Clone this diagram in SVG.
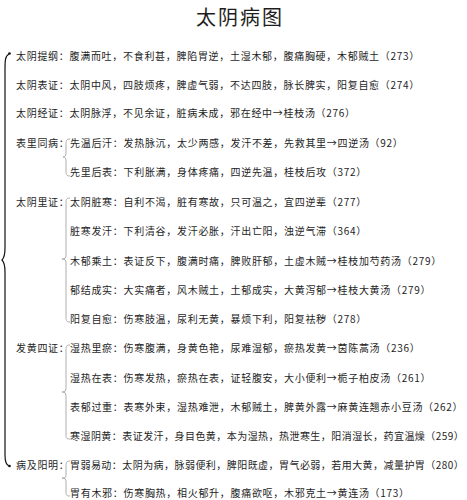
<svg xmlns="http://www.w3.org/2000/svg" width="467" height="500" viewBox="0 0 467 500">
<style>
text{font-family:"Noto Sans CJK SC","Noto Sans",sans-serif;fill:#1e1e1e}
.t{font-size:10px;letter-spacing:0.7px}
.n{letter-spacing:0.45px}
.title{font-size:20px;letter-spacing:2px}
.main{fill:none;stroke:#111;stroke-width:1.2}
.sub{fill:none;stroke:#9a9a9a;stroke-width:0.8}
</style>
<rect width="467" height="500" fill="#fff"/>
<text class="title" x="240" y="25" text-anchor="middle">太阴病图</text>
<g id="connectors">
<path class="main" d="M9,54 C5,56 5,61 5,70 L5,248 C5,255 4,258 2,260 C4,262 5,265 5,272 L5,455 C5,462 6,465 9,466"/>
<circle cx="9.5" cy="53.5" r="1.3" fill="#111"/>
<circle cx="9.5" cy="466" r="1.3" fill="#111"/>
<path class="sub" d="M70,139 C66,139 66,141 66,145 L66,153 C66,156 65,157 63,157 C65,157 66,158 66,161 L66,170 C66,174 66,176 70,176"/>
<path class="sub" d="M70,198 C66,198 66,200 66,204 L66,255 C66,258 65,259 62,259 C65,259 66,260 66,263 L66,316 C66,320 66,322 70,322"/>
<path class="sub" d="M70,345 C66,345 66,347 66,351 L66,388 C66,391 65,392 62,392 C65,392 66,393 66,396 L66,434 C66,438 66,439 70,439"/>
<path class="sub" stroke="#c4c4c4" d="M70,461 C66,461 66,463 66,467 L66,475 C66,478 65,478 62,478 C65,478 66,479 66,482 L66,491 C66,495 66,496 70,496"/>
</g>
<g id="n1"><text class="t" x="16" y="59.8">太阴提纲：腹满而吐，不食利甚，脾陷胃逆，土湿木郁，腹痛胸硬，木郁贼土（273）</text></g>
<g id="n2"><text class="t" x="16" y="88.8">太阴表证：太阴中风，四肢烦疼，脾虚气弱，不达四肢，脉长脾实，阳复自愈（274）</text></g>
<g id="n3"><text class="t" x="16" y="116.8">太阴经证：太阴脉浮，不见余证，脏病未成，邪在经中→桂枝汤（276）</text></g>
<g id="n4"><text class="t" x="16" y="146.8">表里同病：</text></g>
<g id="n4a"><text class="t" x="70" y="146.8">先温后汗：发热脉沉，太少两感，发汗不差，先救其里→四逆汤（92）</text></g>
<g id="n4b"><text class="t" x="70" y="175.8">先里后表：下利胀满，身体疼痛，四逆先温，桂枝后攻（372）</text></g>
<g id="n5"><text class="t" x="16" y="205.8">太阴里证：</text></g>
<g id="n5a"><text class="t" x="70" y="205.8">太阴脏寒：自利不渴，脏有寒故，只可温之，宜四逆辈（277）</text></g>
<g id="n5b"><text class="t" x="70" y="234.8">脏寒发汗：下利清谷，发汗必胀，汗出亡阳，浊逆气滞（364）</text></g>
<g id="n5c"><text class="t" x="70" y="264.8">木郁乘土：表证反下，腹满时痛，脾败肝郁，土虚木贼→桂枝加芍药汤（279）</text></g>
<g id="n5d"><text class="t" x="70" y="293.8">郁结成实：大实痛者，风木贼土，土郁成实，大黄泻郁→桂枝大黄汤（279）</text></g>
<g id="n5e"><text class="t" x="70" y="322.8">阳复自愈：伤寒肢温，尿利无黄，暴烦下利，阳复祛秽（278）</text></g>
<g id="n6"><text class="t" x="16" y="351.8">发黄四证：</text></g>
<g id="n6a"><text class="t" x="70" y="351.8">湿热里瘀：伤寒腹满，身黄色艳，尿难湿郁，瘀热发黄→茵陈蒿汤（236）</text></g>
<g id="n6b"><text class="t" x="70" y="381.8">湿热在表：伤寒发热，瘀热在表，证轻腹安，大小便利→栀子柏皮汤（261）</text></g>
<g id="n6c"><text class="t" x="70" y="410.8">表郁过重：表寒外束，湿热难泄，木郁贼土，脾黄外露→麻黄连翘赤小豆汤（262）</text></g>
<g id="n6d"><text class="t n" x="70" y="439.8">寒湿阴黄：表证发汗，身目色黄，本为湿热，热泄寒生，阳消湿长，药宜温燥（259）</text></g>
<g id="n7"><text class="t" x="16" y="468.8">病及阳明：</text></g>
<g id="n7a"><text class="t n" x="70" y="468.8">胃弱易动：太阴为病，脉弱便利，脾阳既虚，胃气必弱，若用大黄，减量护胃（280）</text></g>
<g id="n7b"><text class="t" x="70" y="496.8">胃有木邪：伤寒胸热，相火郁升，腹痛欲呕，木邪克土→黄连汤（173）</text></g>
</svg>
